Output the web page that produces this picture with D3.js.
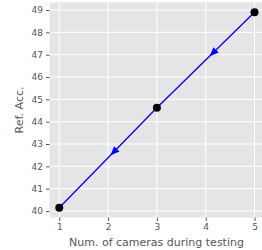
<!DOCTYPE html>
<html><head><meta charset="utf-8">
<script src="https://cdn.jsdelivr.net/npm/d3@7"></script>
<style>body{margin:0;background:#fff}svg{display:block}</style>
</head><body>
<script>
const cameras = [1, 3, 5];
const refAcc = [40.15, 44.62, 48.9];
const arrowX = [2.05, 4.08];
const xTicks = [1, 2, 3, 4, 5];
const yTicks = [40, 41, 42, 43, 44, 45, 46, 47, 48, 49];

const W = 262, H = 250;
const svg = d3.select("body").append("svg").attr("width", W).attr("height", H);
const pL = 49.5, pR = 264.3, pT = 2.4, pB = 217.5;
const x = d3.scaleLinear().domain([0.8, 5.2]).range([pL, pR]);
const y = d3.scaleLinear().domain([39.71, 49.34]).range([pB, pT]);

svg.append("rect").attr("x", pL).attr("y", pT).attr("width", pR - pL).attr("height", pB - pT).attr("fill", "#e5e5e5");

const g = svg.append("g");
g.selectAll("line.vg").data(xTicks).join("line").attr("x1", d => x(d)).attr("x2", d => x(d)).attr("y1", pT).attr("y2", pB).attr("stroke", "#fff").attr("stroke-width", 1);
g.selectAll("line.hg").data(yTicks).join("line").attr("y1", d => y(d)).attr("y2", d => y(d)).attr("x1", pL).attr("x2", pR).attr("stroke", "#fff").attr("stroke-width", 1);

const fmt = d3.format("d");
const xAxis = svg.append("g").attr("transform", `translate(0,${pB})`).call(d3.axisBottom(x).tickValues(xTicks).tickFormat(fmt).tickSize(3.5).tickPadding(3));
const yAxis = svg.append("g").attr("transform", `translate(${pL},0)`).call(d3.axisLeft(y).tickValues(yTicks).tickFormat(fmt).tickSize(3.5).tickPadding(3));
[xAxis, yAxis].forEach(a => {
  a.select(".domain").remove();
  a.selectAll("line").attr("stroke", "#555");
  a.selectAll("text").attr("fill", "#555").style("font-family", "DejaVu Sans").style("font-size", "9px");
});

svg.append("text").attr("x", 156.5).attr("y", 246).attr("text-anchor", "middle")
  .attr("fill", "#555").style("font-family", "DejaVu Sans").style("font-size", "11px").text("Num. of cameras during testing");
svg.append("text").attr("transform", `translate(23,${(pT + pB) / 2}) rotate(-90)`).attr("text-anchor", "middle")
  .attr("fill", "#555").style("font-family", "DejaVu Sans").style("font-size", "11px").text("Ref. Acc.");

const pts = cameras.map((c, i) => [c, refAcc[i]]);
svg.append("path").datum(pts).attr("d", d3.line().x(d => x(d[0])).y(d => y(d[1])))
  .attr("fill", "none").attr("stroke", "#0000ff").attr("stroke-width", 1.3);

arrowX.forEach((ax, i) => {
  const p0 = pts[i], p1 = pts[i + 1];
  const t = (ax - p0[0]) / (p1[0] - p0[0]);
  const ay = p0[1] + t * (p1[1] - p0[1]);
  const tx = x(ax), ty = y(ay);
  const dx = x(p0[0]) - x(p1[0]), dy = y(p0[1]) - y(p1[1]);
  const ang = Math.atan2(dy, dx) * 180 / Math.PI;
  svg.append("path").attr("d", "M0,0 L-9,-3.8 L-9,3.8 Z").attr("fill", "#0000ff")
    .attr("transform", `translate(${tx},${ty}) rotate(${ang})`);
});

svg.selectAll("circle.pt").data(pts).join("circle").attr("cx", d => x(d[0])).attr("cy", d => y(d[1])).attr("r", 4).attr("fill", "#000");
</script>
</body></html>
